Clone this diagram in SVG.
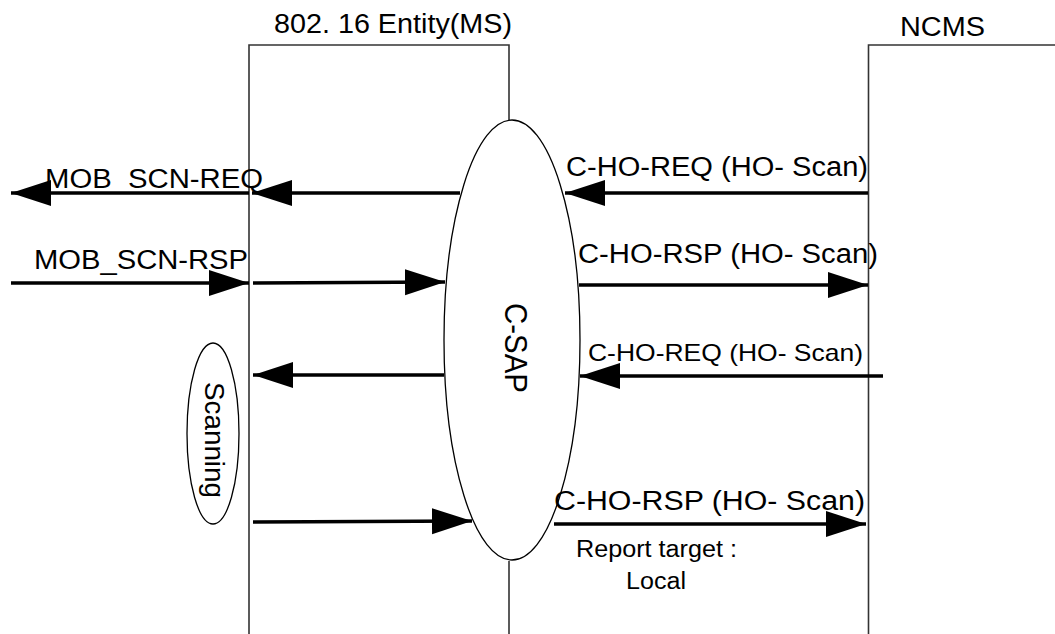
<svg xmlns="http://www.w3.org/2000/svg" width="1055" height="634" viewBox="0 0 1055 634">
<style>
  .lane { fill: none; stroke: #333; stroke-width: 1.6; }
  .oval { fill: #fff; stroke: #000; stroke-width: 1.3; }
  .msg { fill: none; stroke: #000; stroke-width: 3.5; marker-end: url(#head); }
  text { font-family: "Liberation Sans", Arial, sans-serif; fill: #000; }
  .big { font-size: 27px; }
  .mid { font-size: 24px; }
  .small { font-size: 23px; }
</style>
<defs>
  <marker id="head" markerUnits="userSpaceOnUse" markerWidth="42" markerHeight="28" refX="40" refY="13" orient="auto">
    <path d="M0,0 L40,13 L0,26 Z" fill="#000"/>
  </marker>
</defs>
<rect width="1055" height="634" fill="#fff"/>

<g id="ms-entity">
  <path class="lane" d="M249,634 V45 H509 V120 M509,561 V634"/>
  <text class="big" x="274" y="33" textLength="238" lengthAdjust="spacingAndGlyphs">802. 16 Entity(MS)</text>
</g>

<g id="ncms">
  <path class="lane" d="M868.5,634 V45 H1055"/>
  <text class="big" x="900" y="36" textLength="85" lengthAdjust="spacingAndGlyphs">NCMS</text>
</g>

<g id="c-sap">
  <ellipse class="oval" cx="512" cy="340" rx="68" ry="220"/>
  <text font-size="32" transform="translate(505,348) rotate(90)" text-anchor="middle" textLength="90" lengthAdjust="spacingAndGlyphs">C-SAP</text>
</g>

<g id="scanning">
  <ellipse class="oval" cx="213" cy="433.5" rx="26" ry="90.5"/>
  <text font-size="28" transform="translate(205,440) rotate(90)" text-anchor="middle" textLength="116" lengthAdjust="spacingAndGlyphs">Scanning</text>
</g>

<g id="connectors">
  <line class="msg" x1="249" y1="193" x2="11" y2="193"/>
  <line class="msg" x1="460" y1="193" x2="252" y2="193"/>
  <line class="msg" x1="868" y1="193" x2="565" y2="193"/>

  <line class="msg" x1="11" y1="283" x2="249" y2="283"/>
  <line class="msg" x1="253" y1="283" x2="445" y2="282"/>
  <line class="msg" x1="579" y1="285" x2="868" y2="285"/>

  <line class="msg" x1="444" y1="375" x2="253" y2="375"/>
  <line class="msg" x1="883" y1="376" x2="580" y2="376"/>

  <line class="msg" x1="253" y1="522" x2="472" y2="521"/>
  <line class="msg" x1="554" y1="524" x2="866" y2="524"/>
</g>

<g id="labels">
  <text class="big" x="45" y="188" textLength="218" lengthAdjust="spacingAndGlyphs">MOB_SCN-REQ</text>
  <text class="big" x="34" y="269" textLength="214" lengthAdjust="spacingAndGlyphs">MOB_SCN-RSP</text>
  <text class="big" x="566" y="176" textLength="302" lengthAdjust="spacingAndGlyphs">C-HO-REQ (HO- Scan)</text>
  <text class="big" x="578" y="263" textLength="300" lengthAdjust="spacingAndGlyphs">C-HO-RSP (HO- Scan)</text>
  <text class="mid" x="588" y="361" textLength="275" lengthAdjust="spacingAndGlyphs">C-HO-REQ (HO- Scan)</text>
  <text class="big" x="554" y="510" textLength="311" lengthAdjust="spacingAndGlyphs">C-HO-RSP (HO- Scan)</text>
  <text class="small" x="576" y="557" textLength="161" lengthAdjust="spacingAndGlyphs">Report target :</text>
  <text class="small" x="626" y="589" textLength="60" lengthAdjust="spacingAndGlyphs">Local</text>
</g>
</svg>
